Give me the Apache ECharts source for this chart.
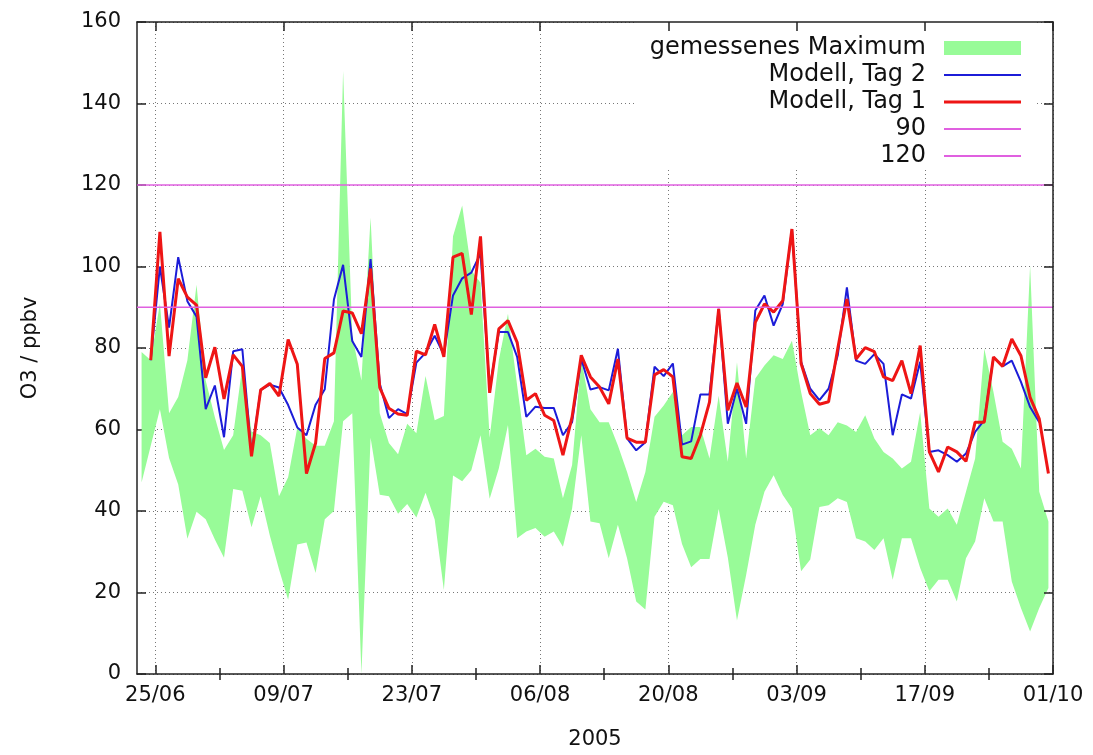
<!DOCTYPE html>
<html>
<head>
<meta charset="utf-8">
<script src="https://cdn.jsdelivr.net/npm/echarts@6/dist/echarts.min.js"></script>
<style>html,body{margin:0;padding:0;background:#fff}#c{width:1093px;height:755px}</style>
</head>
<body>
<div id="c"></div>
<script>
// Tick labels of the x axis (2005)
const tickLabels = ['25/06','09/07','23/07','06/08','20/08','03/09','17/09','01/10'];
// Model, day 1 : daily values at 12:00, from 24/06 to 30/09
const modelDay1 = [77,108.5,78,97,92.5,90.5,72.7,80.2,67.5,78.3,
  75.5,53.4,69.7,71.3,68.2,82.1,76,49.2,56.7,77.4,
  78.8,89.1,88.6,83.5,99.5,70.3,65.2,63.8,63.5,79.2,
  78.3,85.8,77.8,102.3,103.2,88.2,107.4,69,84.7,86.7,
  81.4,67.2,68.8,63.5,62.2,53.7,63.1,78.2,72.9,70.4,
  66.3,77.3,57.9,56.9,56.9,73.4,74.7,72.9,53.3,52.9,
  58.6,66.7,89.6,64.7,71.4,65.5,86.3,90.8,88.8,91.6,
  109.2,76.2,68.8,66.2,66.8,79.8,92,77.3,80.1,79.1,
  72.9,72,76.9,68.8,80.6,54.5,49.6,55.7,54.5,52.2,
  61.8,61.8,77.8,75.5,82.2,78.1,67.9,62.6,49.2];
// Model, day 2 : daily values at 12:00, from 24/06 to 29/09
const modelDay2 = [77,100,85,102.3,91.5,87.7,65,70.8,58.1,79.2,
  79.7,54,69.7,71,70.3,66,60.5,58.6,66.1,69.9,
  91.9,100.4,81.7,77.8,101.8,71.3,62.8,65,63.8,76.4,
  78.8,83,78.3,92.9,97.1,98.5,103.2,70,83.9,83.9,
  77.8,63.1,65.6,65.3,65.3,58.6,61.8,77.3,69.8,70.4,
  69.6,79.8,57.8,54.9,56.9,75.4,73.1,76.2,56.3,57.1,
  68.6,68.6,89.6,61.4,70,61.4,89.2,92.9,85.5,90.8,
  109.2,76.6,70,67.2,70,78.2,94.9,76.9,76.1,78.5,
  76.1,58.6,68.6,67.6,76.6,54.5,54.9,53.7,52.1,54.1,
  59.4,62.3,77.7,75.5,76.9,71.7,65.5,61.8];
// Measured maximum band: upper / lower edge, daily at 12:00 from 23/06 to 30/09
const measuredHigh = [79,77,91,64,68,77,95.5,72,63,55,
  58.6,75.5,59.5,58.6,56.7,43.6,48.3,60.5,57.7,56,
  56,62,148,83,72,112,64,56.7,53.9,61.4,
  59.1,73.1,62.3,63.3,107.4,115,99,96,58,77,
  88.4,70.8,53.7,55.3,53.3,52.9,43.1,51.3,77.3,65,
  61.8,61.8,56.1,49.6,42.2,49.6,63.1,65.9,69.2,58.6,
  60.6,60.6,52.9,68.3,52.1,76.5,52.9,72.5,75.7,78.2,
  77.3,81.8,69.2,58.6,60.3,58.6,61.8,61,59.4,63.5,
  57.8,54.5,52.9,50.4,52.1,64.3,40.6,38.6,40.6,36.6,
  44.7,52.9,79.8,69.2,57,55.3,50.4,100.2,44.7,37.4];
const measuredLow = [47,56,65,53,46.5,33.2,39.8,38,33,28.5,
  45.4,45,36,43.6,34,25.7,18.2,31.8,32.3,24.8,
  38,40,62,64,0,58,44,43.6,39.3,41.7,
  38.4,44.5,37.9,20.6,48.7,47.3,50,58.6,43,50.4,
  61.1,33.3,35,35.8,33.7,35,31.2,40.6,58.6,37.4,
  37,28.4,36.6,28.4,17.8,15.8,38.6,42.3,41.4,31.9,
  26.2,28.2,28.2,40.5,28.6,13.1,24.3,36.6,44.7,48.8,
  43.9,40.6,25.2,28.1,41,41.4,43.1,42.2,33.3,32.5,
  30.4,33.3,23.1,33.3,33.3,26,20.3,23.1,23.1,17.8,
  28.4,32.5,43.1,37.4,37.4,22.7,16.2,10.4,16.2,21.1];
const thresholds = [90, 120];

// Half-day slots from 23/06/2005 00:00 to 01/10/2005 00:00
const start = Date.UTC(2005, 5, 23);
const slots = [];
for (let i = 0; i <= 200; i++) {
  const d = new Date(start + i * 43200000);
  const dd = String(d.getUTCDate()).padStart(2, '0');
  const mm = String(d.getUTCMonth() + 1).padStart(2, '0');
  slots.push(i % 2 === 0 ? dd + '/' + mm : dd + '/' + mm + ' 12h');
}
const isMajor = (i, v) => tickLabels.indexOf(v) >= 0;
const firstMajor = slots.indexOf(tickLabels[0]);
const isMinor = (i, v) => i % 2 === 0 && ((i - firstMajor) / 2) % 7 === 0 && !isMajor(i, v);

const line1 = modelDay1.map((v, k) => [2 * k + 3, v]);
const line2 = modelDay2.map((v, k) => [2 * k + 3, v]);
const bandLow = measuredLow.map((v, k) => [2 * k + 1, v]);
const bandSpan = measuredHigh.map((v, k) => [2 * k + 1, +(v - measuredLow[k]).toFixed(2)]);
const last = slots.length - 1;

const FONT = 'DejaVu Sans';
const AX = '#222';
const GREEN = '#98fb98';
const MAG = '#e060e0';
const BLUE = '#1c1cd8';
const RED = '#ee1515';

const chart = echarts.init(document.getElementById('c'), null, {renderer: 'canvas'});
const catAxis = (extra) => Object.assign({
  type: 'category', data: slots, boundaryGap: false, gridIndex: 0,
  axisLine: {show: false}, axisLabel: {show: false}, splitLine: {show: false},
  axisTick: {show: false}
}, extra);

chart.setOption({
  animation: false,
  backgroundColor: '#fff',
  grid: {left: 137, right: 40, top: 22, bottom: 79, containLabel: false},
  legend: {
    orient: 'vertical', align: 'right', right: 56, top: 22,
    padding: [14, 16, 2, 2], backgroundColor: '#fff',
    itemWidth: 77, itemHeight: 14, itemGap: 3,
    textStyle: {fontFamily: FONT, fontSize: 24, lineHeight: 24, color: '#111', padding: [0, 13, 0, 13]},
    data: [
      {name: 'gemessenes Maximum', icon: 'rect'},
      {name: 'Modell, Tag 2', icon: 'path://M0,0h77v2h-77z'},
      {name: 'Modell, Tag 1', icon: 'path://M0,0h77v3h-77z'},
      {name: '90', icon: 'path://M0,0h77v2h-77z'},
      {name: '120', icon: 'path://M0,0h77v2h-77z'}
    ],
    selectedMode: false
  },
  xAxis: [
    catAxis({
      position: 'bottom',
      axisLine: {show: true, onZero: false, lineStyle: {color: AX, width: 1.5}},
      axisTick: {show: true, inside: true, length: 9, interval: isMajor, lineStyle: {color: AX, width: 1.5}},
      axisLabel: {show: true, interval: isMajor, fontFamily: FONT, fontSize: 21, color: '#111', margin: 11},
      splitLine: {show: true, interval: isMajor, lineStyle: {type: [1, 3], color: '#777', width: 1}},
      name: '2005', nameLocation: 'middle', nameGap: 55,
      nameTextStyle: {fontFamily: FONT, fontSize: 21, color: '#111'}
    }),
    catAxis({position: 'bottom',
      axisTick: {show: true, inside: true, length: 6, interval: isMinor, lineStyle: {color: AX, width: 1.5}}}),
    catAxis({position: 'top', z: 5,
      axisLine: {show: true, onZero: false, lineStyle: {color: AX, width: 1.5}},
      axisTick: {show: true, inside: true, length: 9, interval: isMajor, lineStyle: {color: AX, width: 1.5}}}),
    catAxis({position: 'top', z: 5,
      axisTick: {show: true, inside: true, length: 6, interval: isMinor, lineStyle: {color: AX, width: 1.5}}})
  ],
  yAxis: [
    {
      type: 'value', min: 0, max: 160, interval: 20, position: 'left',
      axisLine: {show: true, onZero: false, lineStyle: {color: AX, width: 1.5}},
      axisTick: {show: true, inside: true, length: 9, lineStyle: {color: AX, width: 1.5}},
      axisLabel: {fontFamily: FONT, fontSize: 21, color: '#111', margin: 16},
      splitLine: {show: true, lineStyle: {type: [1, 3], color: '#777', width: 1}},
      name: 'O3 / ppbv', nameLocation: 'middle', nameGap: 96,
      nameTextStyle: {fontFamily: FONT, fontSize: 21, color: '#111'}
    },
    {
      type: 'value', min: 0, max: 160, interval: 20, position: 'right', z: 5,
      axisLine: {show: true, onZero: false, lineStyle: {color: AX, width: 1.5}},
      axisTick: {show: true, inside: true, length: 9, lineStyle: {color: AX, width: 1.5}},
      axisLabel: {show: false}, splitLine: {show: false}
    }
  ],
  series: [
    {name: 'low', type: 'line', data: bandLow, stack: 'band', symbol: 'none',
      lineStyle: {width: 0, opacity: 0}, silent: true},
    {name: 'gemessenes Maximum', type: 'line', data: bandSpan, stack: 'band', symbol: 'none',
      itemStyle: {color: GREEN}, lineStyle: {width: 0, opacity: 0},
      areaStyle: {color: GREEN, opacity: 1}, silent: true},
    {name: 'Modell, Tag 2', type: 'line', data: line2, symbol: 'none',
      itemStyle: {color: BLUE}, lineStyle: {color: BLUE, width: 2}},
    {name: 'Modell, Tag 1', type: 'line', data: line1, symbol: 'none',
      itemStyle: {color: RED}, lineStyle: {color: RED, width: 3}},
    {name: '90', type: 'line', data: [[0, thresholds[0]], [last, thresholds[0]]], symbol: 'none',
      itemStyle: {color: MAG}, lineStyle: {color: MAG, width: 1.5}},
    {name: '120', type: 'line', data: [[0, thresholds[1]], [last, thresholds[1]]], symbol: 'none',
      itemStyle: {color: MAG}, lineStyle: {color: MAG, width: 1.5}}
  ]
});
</script>
</body>
</html>
